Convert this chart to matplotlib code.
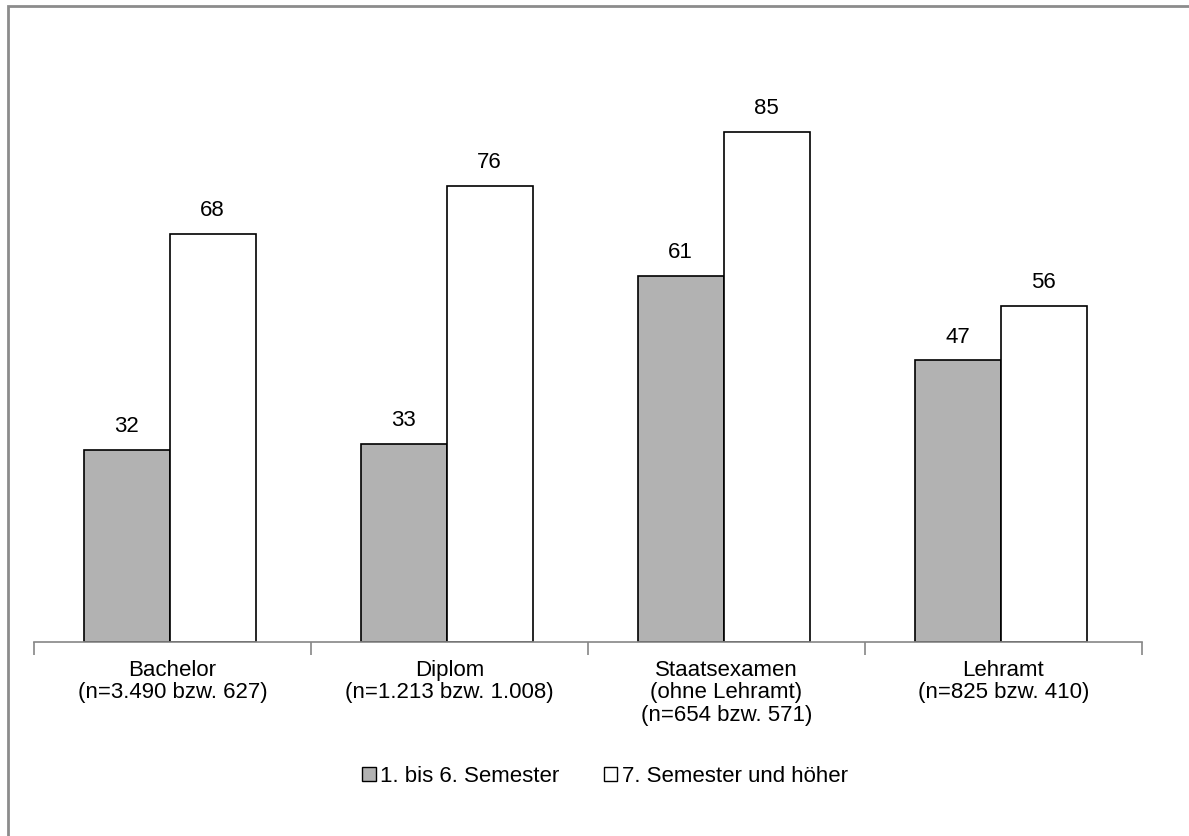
import matplotlib.pyplot as plt
from matplotlib.patches import Rectangle
import numpy as np

plt.rcParams['font.family'] = ['Liberation Sans', 'DejaVu Sans']

categories = ['Bachelor\n(n=3.490 bzw. 627)',
              'Diplom\n(n=1.213 bzw. 1.008)',
              'Staatsexamen\n(ohne Lehramt)\n(n=654 bzw. 571)',
              'Lehramt\n(n=825 bzw. 410)']
early = [32, 33, 61, 47]
late = [68, 76, 85, 56]
series_names = ['1. bis 6. Semester', '7. Semester und höher']

W, H = 1189, 836
fs = 16
fig = plt.figure(figsize=(W / 100, H / 100), dpi=100)
ax = fig.add_axes([34 / W, (H - 642) / H, (1142 - 34) / W, 600 / H])

x = np.arange(len(categories))
bw = 0.31
off = 0.01
b1 = ax.bar(x - bw / 2 - off, early, bw, color='#b2b2b2', edgecolor='black', linewidth=1.2)
b2 = ax.bar(x + bw / 2 - off, late, bw, color='white', edgecolor='black', linewidth=1.2)

for bars in (b1, b2):
    for bar in bars:
        h = bar.get_height()
        ax.annotate(f'{h:g}', xy=(bar.get_x() + bar.get_width() / 2, h),
                    xytext=(0, 9), textcoords='offset points',
                    ha='center', va='bottom', fontsize=fs)

ax.set_xlim(-0.5, len(categories) - 0.5)
ax.set_ylim(0, 100)
for s in ['top', 'right', 'left']:
    ax.spines[s].set_visible(False)
ax.spines['bottom'].set_color('#868686')
ax.spines['bottom'].set_linewidth(1.2)
ax.set_yticks([])

# separators between categories
ax.set_xticks(np.arange(len(categories) + 1) - 0.5)
ax.set_xticklabels([])
ax.tick_params(axis='x', length=9, width=1.2, color='#868686')
ax.set_xticks(x, minor=True)
ax.set_xticklabels(categories, minor=True, fontsize=fs, linespacing=1.08)
ax.tick_params(axis='x', which='minor', length=0, pad=13)

handles = [Rectangle((0, 0), 1, 1, facecolor='#b2b2b2', edgecolor='black'),
           Rectangle((0, 0), 1, 1, facecolor='white', edgecolor='black')]
fig.legend(handles, series_names, loc='center', bbox_to_anchor=(605 / W, 1 - 776 / H),
           ncol=2, frameon=False, fontsize=fs, handlelength=0.6, handleheight=0.6,
           handletextpad=0.2, columnspacing=2.0)

# outer frame
fig.add_artist(Rectangle((8 / W, -0.1), 1.2, 1 - 6 / H + 0.1, transform=fig.transFigure,
                         facecolor='none', edgecolor='#8c8c8c', linewidth=2))

fig.savefig('out.png', dpi=100)
